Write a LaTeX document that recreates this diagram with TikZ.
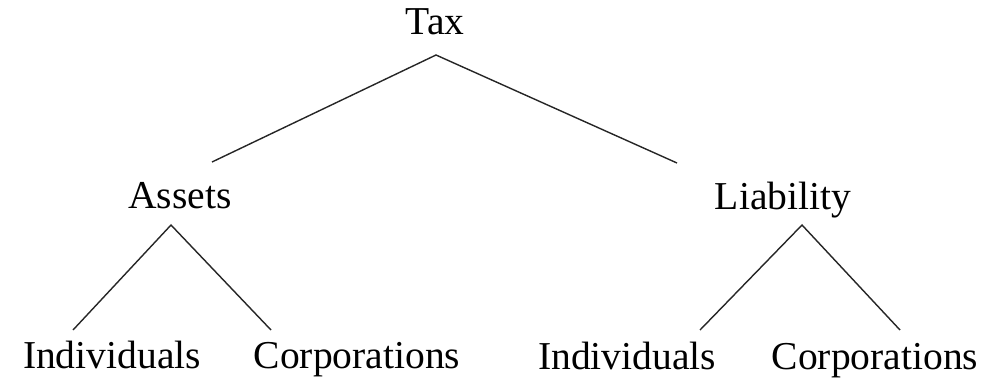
\documentclass[tikz,border=0pt]{standalone}
\usepackage{fontspec}
\setmainfont{Liberation Serif}
\usetikzlibrary{positioning}

\begin{document}
\begin{tikzpicture}[x=0.02cm, y=-0.02cm,
  lbl/.style={anchor=base, inner sep=0pt, font=\fontsize{22.5}{26}\selectfont},
  branch/.style={draw=black!85, line width=0.8pt},
]
\useasboundingbox (0,0) rectangle (989,383);

% Labels
\node[lbl] (tax) at (435, 34) {Tax};
\node[lbl] (assets) at (180, 208) {Assets};
\node[lbl] (liab) at (783, 209) {Liability};
\node[lbl] (indA) at (112, 368) {Individuals};
\node[lbl] (corpA) at (357, 368) {Corporations};
\node[lbl] (indL) at (627, 369) {Individuals};
\node[lbl] (corpL) at (875, 369) {Corporations};

% Fork points and line ends
\coordinate (taxfork) at (436, 55);
\coordinate (assetsIn) at (212, 162);
\coordinate (liabIn) at (677, 163);
\coordinate (assetsfork) at (171, 225);
\coordinate (indAin) at (73, 330);
\coordinate (corpAin) at (271, 330);
\coordinate (liabfork) at (802, 225);
\coordinate (indLin) at (700, 330);
\coordinate (corpLin) at (900, 330);

% Branches
\draw[branch] (assetsIn) -- (taxfork) -- (liabIn);
\draw[branch] (indAin) -- (assetsfork) -- (corpAin);
\draw[branch] (indLin) -- (liabfork) -- (corpLin);

\end{tikzpicture}
\end{document}
